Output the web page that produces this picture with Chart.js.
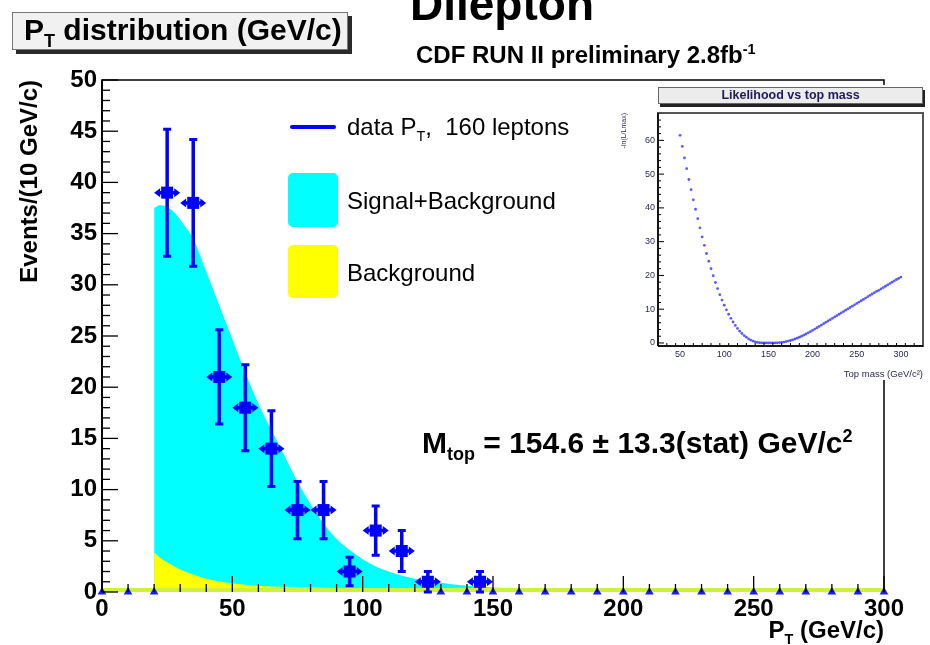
<!DOCTYPE html>
<html><head><meta charset="utf-8">
<script src="https://cdn.jsdelivr.net/npm/chart.js@4.4.0/dist/chart.umd.min.js"></script>
<style>
html,body{margin:0;padding:0;background:#fff;}
#wrap{position:relative;width:930px;height:645px;overflow:hidden;font-family:"Liberation Sans",Arial,Helvetica,sans-serif;}
#main{position:absolute;left:0;top:0;}
.t{position:absolute;white-space:nowrap;color:#000;line-height:1;}
.b{font-weight:bold;}
sub,sup{font-size:60%;line-height:0;}
#titleBox{position:absolute;left:12px;top:12px;width:334px;height:36px;background:#f1f1f1;border:1px solid #777;box-shadow:4px 4px 0 #2a2a2a;}
#insetPad{position:absolute;left:620px;top:85px;width:310px;height:295px;background:#fff;}
#inset{position:absolute;left:0;top:0;}
#insetTitle{position:absolute;left:38px;top:2px;width:263px;height:15px;background:#ececec;border:1px solid #666;box-shadow:2px 3px 0 #222;font-weight:bold;font-size:12.5px;line-height:15px;text-align:center;color:#1b1b5e;}
.sw{position:absolute;border-radius:5px;}
</style></head>
<body><div id="wrap">
<canvas id="main" width="930" height="645"></canvas>
<div id="titleBox"></div>
<div class="t b" style="left:24px;top:15px;font-size:30px;">P<sub>T</sub> distribution (GeV/c)</div>
<div class="t b" style="left:410px;top:-19px;font-size:46px;">Dilepton</div>
<div class="t b" style="left:416px;top:43px;font-size:24px;">CDF RUN II preliminary 2.8fb<sup>-1</sup></div>
<div class="sw" style="left:290px;top:125px;width:46px;height:4px;background:#0000ff;border-radius:2px;"></div>
<div class="t" style="left:347px;top:115px;font-size:24px;">data P<sub>T</sub>,&nbsp; 160 leptons</div>
<div class="sw" style="left:288px;top:173px;width:50px;height:54px;background:#00ffff;"></div>
<div class="t" style="left:347px;top:189px;font-size:24px;">Signal+Background</div>
<div class="sw" style="left:288px;top:245px;width:50px;height:53px;background:#ffff00;"></div>
<div class="t" style="left:347px;top:261px;font-size:24px;">Background</div>
<div class="t b" style="left:422px;top:428px;font-size:30px;">M<sub>top</sub> = 154.6 ± 13.3(stat) GeV/c<sup>2</sup></div>
<div class="t b" style="right:46px;top:618px;font-size:24px;">P<sub>T</sub> (GeV/c)</div>
<div id="insetPad">
  <canvas id="inset" width="310" height="295"></canvas>
  <div id="insetTitle">Likelihood vs top mass</div>
</div>
</div>
<script>
// ---------- main histogram data ----------
const binCenters = [25, 35, 45, 55, 65, 75, 85, 95, 105, 115, 125, 145];
const counts     = [39, 38, 21, 18, 14, 8, 8, 2, 6, 4, 1, 1];
const countErr   = [6.2, 6.2, 4.6, 4.2, 3.7, 2.8, 2.8, 1.4, 2.4, 2.0, 1.0, 1.0];
const binHalfWidth = 5;
const zeroBinEdges = [0, 10, 20, 130, 140, 150, 160, 170, 180, 190, 200, 210, 220, 230, 240, 250, 260, 270, 280, 290, 300];

// Signal+Background expectation
const sbX = [20, 20, 22, 25, 28, 31, 35, 40, 45, 50, 55, 60, 65, 70, 75, 80, 85, 90, 95, 100, 105, 110, 115, 120, 130, 140, 150, 160, 180, 200, 250, 300];
const sbY = [0, 37.5, 37.8, 37.6, 37.0, 36.0, 34.5, 31.3, 28.0, 24.7, 21.4, 18.4, 15.8, 13.3, 10.8, 8.6, 6.7, 5.2, 4.1, 3.2, 2.5, 2.0, 1.6, 1.3, 0.9, 0.6, 0.45, 0.35, 0.3, 0.28, 0.25, 0.25];
// Background expectation
const bgX = [20, 20, 22, 25, 30, 35, 40, 50, 60, 80, 100, 150, 200, 300];
const bgY = [0, 3.8, 3.4, 2.9, 2.2, 1.7, 1.3, 0.85, 0.6, 0.45, 0.38, 0.3, 0.28, 0.25];
const baseX = [0, 300];
const baseY = [0.1, 0.1];

const xTickVals = [0, 50, 100, 150, 200, 250, 300];
const yTickVals = [0, 5, 10, 15, 20, 25, 30, 35, 40, 45, 50];

// ---------- inset likelihood data ----------
const likeMass = [50,52.5,55,57.5,60,62.5,65,67.5,70,72.5,75,77.5,80,82.5,85,87.5,90,92.5,95,97.5,100,102.5,105,107.5,110,112.5,115,117.5,120,122.5,125,127.5,130,132.5,135,137.5,140,142.5,145,147.5,150,152.5,155,157.5,160,162.5,165,167.5,170,172.5,175,177.5,180,182.5,185,187.5,190,192.5,195,197.5,200,202.5,205,207.5,210,212.5,215,217.5,220,222.5,225,227.5,230,232.5,235,237.5,240,242.5,245,247.5,250,252.5,255,257.5,260,262.5,265,267.5,270,272.5,275,277.5,280,282.5,285,287.5,290,292.5,295,297.5,300];
const likeVal = [61.5,58.2,54.8,51.6,48.4,45.4,42.4,39.6,36.8,34.1,31.4,28.9,26.5,24.2,22.0,19.9,17.9,16.1,14.3,12.7,11.2,9.8,8.5,7.3,6.2,5.2,4.3,3.5,2.8,2.2,1.7,1.2,0.85,0.55,0.33,0.17,0.07,0.02,0.0,0.0,0.0,0.0,0.0,0.02,0.05,0.1,0.17,0.27,0.4,0.55,0.73,0.94,1.17,1.43,1.7,2.0,2.3,2.65,3.0,3.35,3.7,4.1,4.5,4.9,5.3,5.7,6.1,6.5,6.9,7.3,7.7,8.1,8.5,8.9,9.3,9.7,10.1,10.5,10.9,11.3,11.7,12.1,12.5,12.9,13.3,13.7,14.1,14.5,14.9,15.3,15.6,16.0,16.4,16.8,17.2,17.6,18.0,18.4,18.8,19.1,19.5];
const insetXTicks = [50, 100, 150, 200, 250, 300];
const insetYTicks = [0, 10, 20, 30, 40, 50, 60];

const pts = (xs, ys) => xs.map((x, i) => ({x: x, y: ys[i]}));

// inward ticks + frame
const frameTicks = {
  id: 'frameTicks',
  afterDraw(chart, args, o) {
    const {ctx, chartArea: a, scales: {x, y}} = chart;
    ctx.save();
    ctx.strokeStyle = o.color || '#000';
    ctx.lineWidth = o.tickWidth || 1.2;
    for (let v = x.min; v <= x.max + 1e-9; v += o.xMinor) {
      const px = x.getPixelForValue(v);
      const isMajor = Math.abs(v / o.xMajor - Math.round(v / o.xMajor)) < 1e-6;
      const len = isMajor ? o.majorLen : o.minorLen;
      ctx.beginPath(); ctx.moveTo(px, a.bottom); ctx.lineTo(px, a.bottom - len); ctx.stroke();
    }
    for (let v = Math.ceil(y.min); v <= y.max + 1e-9; v += o.yMinor) {
      const py = y.getPixelForValue(v);
      const isMajor = Math.abs(v / o.yMajor - Math.round(v / o.yMajor)) < 1e-6;
      const len = isMajor ? o.majorLen : o.minorLen;
      ctx.beginPath(); ctx.moveTo(a.left, py); ctx.lineTo(a.left + len, py); ctx.stroke();
    }
    ctx.lineWidth = o.frameWidth || 1.5;
    ctx.strokeStyle = o.frameColor || '#000';
    ctx.beginPath();
    ctx.moveTo(a.left, a.bottom); ctx.lineTo(a.left, a.top); ctx.lineTo(a.right, a.top); ctx.lineTo(a.right, a.bottom);
    if (o.closeBottom) ctx.lineTo(a.left, a.bottom);
    ctx.stroke();
    ctx.lineWidth = o.axisWidth || 2;
    ctx.strokeStyle = o.axisColor || '#000';
    ctx.beginPath(); ctx.moveTo(a.left, a.top); ctx.lineTo(a.left, a.bottom); ctx.stroke();
    if (o.closeBottom) { ctx.beginPath(); ctx.moveTo(a.left, a.bottom); ctx.lineTo(a.right, a.bottom); ctx.stroke(); }
    ctx.restore();
  }
};

// error bars for data points
const errorBars = {
  id: 'errorBars',
  afterDatasetsDraw(chart, args, o) {
    if (!o.enabled) return;
    const {ctx, scales: {x, y}} = chart;
    ctx.save();
    ctx.strokeStyle = '#0000ff';
    ctx.fillStyle = '#0000ff';
    binCenters.forEach((c, i) => {
      const px = x.getPixelForValue(c);
      const py = y.getPixelForValue(counts[i]);
      const pTop = y.getPixelForValue(counts[i] + countErr[i]);
      const pBot = y.getPixelForValue(Math.max(0, counts[i] - countErr[i]));
      const pl = x.getPixelForValue(c - binHalfWidth);
      const pr = x.getPixelForValue(c + binHalfWidth);
      ctx.lineWidth = 3.5;
      ctx.beginPath();
      ctx.moveTo(px, pTop); ctx.lineTo(px, pBot);
      ctx.moveTo(pl + 3, py); ctx.lineTo(pr - 3, py);
      ctx.stroke();
      ctx.lineWidth = 3;
      ctx.beginPath();
      ctx.moveTo(px - 4, pTop); ctx.lineTo(px + 4, pTop);
      ctx.moveTo(px - 4, pBot); ctx.lineTo(px + 4, pBot);
      ctx.stroke();
      ctx.beginPath();
      ctx.moveTo(pl, py); ctx.lineTo(pl + 6, py - 4.5); ctx.lineTo(pl + 6, py + 4.5); ctx.closePath();
      ctx.moveTo(pr, py); ctx.lineTo(pr - 6, py - 4.5); ctx.lineTo(pr - 6, py + 4.5); ctx.closePath();
      ctx.fill();
    });
    ctx.restore();
  }
};

Chart.register(frameTicks, errorBars);

const tickFont = {family: '"Liberation Sans", Arial, sans-serif', weight: 'bold', size: 24};

new Chart(document.getElementById('main'), {
  type: 'scatter',
  data: {
    datasets: [
      {label: 'data', data: pts(binCenters, counts), pointStyle: 'rect', pointRadius: 8.5, pointBackgroundColor: '#0000ff', pointBorderWidth: 0, showLine: false, order: 1},
      {label: 'zero', data: zeroBinEdges.map(e => ({x: e, y: 0})), pointStyle: 'triangle', pointRadius: 5, pointBackgroundColor: '#1a1aff', pointBorderWidth: 0, showLine: false, order: 2, clip: false},
      {label: 'base', data: pts(baseX, baseY), showLine: true, borderColor: '#cdf23a', borderWidth: 6, pointRadius: 0, order: 3},
      {label: 'Background', data: pts(bgX, bgY), showLine: true, borderWidth: 0, borderColor: 'rgba(0,0,0,0)', backgroundColor: '#ffff00', fill: 'origin', pointRadius: 0, cubicInterpolationMode: 'monotone', order: 4},
      {label: 'Signal+Background', data: pts(sbX, sbY), showLine: true, borderWidth: 0, borderColor: 'rgba(0,0,0,0)', backgroundColor: '#00ffff', fill: 'origin', pointRadius: 0, cubicInterpolationMode: 'monotone', order: 5}
    ]
  },
  options: {
    responsive: false, animation: false, devicePixelRatio: 1,
    layout: {padding: {left: 0, right: 46, top: 80, bottom: 0}},
    plugins: {
      legend: {display: false}, tooltip: {enabled: false},
      frameTicks: {xMajor: 50, xMinor: 10, yMajor: 5, yMinor: 1, majorLen: 16, minorLen: 8, tickWidth: 1.3},
      errorBars: {enabled: true}
    },
    scales: {
      x: {type: 'linear', min: 0, max: 300,
          afterFit: s => { s.height = 53; },
          afterBuildTicks: s => { s.ticks = xTickVals.map(v => ({value: v})); },
          grid: {display: false, drawTicks: false}, border: {display: false},
          ticks: {font: tickFont, color: '#000', padding: 3, maxRotation: 0, autoSkip: false}},
      y: {type: 'linear', min: 0, max: 50,
          afterFit: s => { s.width = 102; },
          afterBuildTicks: s => { s.ticks = yTickVals.map(v => ({value: v})); },
          grid: {display: false, drawTicks: false}, border: {display: false},
          ticks: {font: tickFont, color: '#000', padding: 5, autoSkip: false},
          title: {display: true, text: 'Events/(10 GeV/c)', align: 'end', font: {family: '"Liberation Sans", Arial, sans-serif', weight: 'bold', size: 24}, color: '#000', padding: {top: 16, bottom: 0}}}
    }
  }
});

const smallFont = {family: '"Liberation Sans", Arial, sans-serif', size: 9};
new Chart(document.getElementById('inset'), {
  type: 'scatter',
  data: {datasets: [{data: pts(likeMass, likeVal), pointRadius: 1.4, pointBackgroundColor: 'rgba(60,60,255,0.85)', pointBorderWidth: 0, showLine: false}]},
  options: {
    responsive: false, animation: false, devicePixelRatio: 1,
    layout: {padding: {left: 0, right: 7, top: 28, bottom: 0}},
    plugins: {
      legend: {display: false}, tooltip: {enabled: false}, errorBars: {enabled: false},
      frameTicks: {xMajor: 50, xMinor: 10, yMajor: 10, yMinor: 2, majorLen: 6, minorLen: 3, tickWidth: 1, frameWidth: 2, frameColor: '#555', axisWidth: 1.5, axisColor: '#000', closeBottom: true}
    },
    scales: {
      x: {type: 'linear', min: 25, max: 325,
          afterFit: s => { s.height = 34; },
          afterBuildTicks: s => { s.ticks = insetXTicks.map(v => ({value: v})); },
          grid: {display: false, drawTicks: false}, border: {display: false},
          ticks: {font: smallFont, color: '#2a2a55', padding: 3, maxRotation: 0, autoSkip: false},
          title: {display: true, text: 'Top mass (GeV/c²)', align: 'end', font: {family: '"Liberation Sans", Arial, sans-serif', size: 9.5}, color: '#2a2a55', padding: {top: 1, bottom: 0}}},
      y: {type: 'linear', min: -0.9, max: 68.1,
          afterFit: s => { s.width = 38; },
          afterBuildTicks: s => { s.ticks = insetYTicks.map(v => ({value: v})); },
          grid: {display: false, drawTicks: false}, border: {display: false},
          ticks: {font: smallFont, color: '#2a2a55', padding: 3, autoSkip: false},
          title: {display: true, text: '-ln(L/Lmax)', align: 'end', font: {family: '"Liberation Sans", Arial, sans-serif', size: 7}, color: '#2a2a55', padding: {top: 0, bottom: 0}}}
    }
  }
});
</script>
</body></html>
